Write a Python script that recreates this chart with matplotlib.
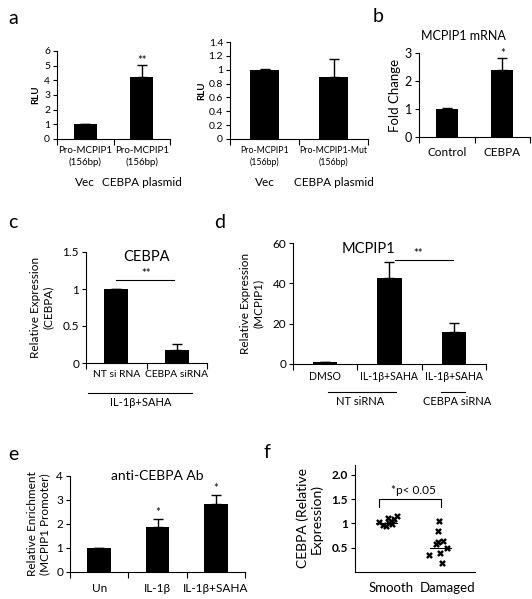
import matplotlib
matplotlib.use("Agg")
import matplotlib.pyplot as plt
import numpy as np

plt.rcParams['font.family'] = ['Lato', 'DejaVu Sans']

# panel a (left): luciferase, wild type promoter
a1_groups = ["Vec", "CEBPA plasmid"]
a1_labels = ["Pro-MCPIP1\n(156bp)", "Pro-MCPIP1\n(156bp)"]
a1_vals = [1.0, 4.25]
a1_err = [0.03, 0.78]

# panel a (right): mutant promoter
a2_groups = ["Vec", "CEBPA plasmid"]
a2_labels = ["Pro-MCPIP1\n(156bp)", "Pro-MCPIP1-Mut\n(156bp)"]
a2_vals = [1.0, 0.9]
a2_err = [0.005, 0.25]

# panel b
b_labels = ["Control", "CEBPA"]
b_vals = [1.0, 2.4]
b_err = [0.02, 0.42]

# panel c
c_labels = ["NT si RNA", "CEBPA siRNA"]
c_vals = [1.0, 0.17]
c_err = [0.005, 0.09]

# panel d
d_labels = ["DMSO", "IL-1β+SAHA", "IL-1β+SAHA"]
d_vals = [0.9, 42.5, 16.0]
d_err = [0.3, 8.0, 4.2]

# panel e
e_labels = ["Un", "IL-1β", "IL-1β+SAHA"]
e_vals = [1.0, 1.87, 2.85]
e_err = [0.01, 0.35, 0.37]

# panel f: scatter of individual samples
f_labels = ["Smooth", "Damaged"]
smooth_vals = [1.02, 0.97, 0.94, 1.0, 1.05, 1.09, 1.15, 1.11, 0.98]
smooth_jit = [-0.22, -0.15, -0.1, -0.04, 0.0, 0.04, 0.1, -0.05, 0.02]
damaged_vals = [1.04, 0.84, 0.61, 0.63, 0.57, 0.49, 0.39, 0.35, 0.18]
damaged_jit = [-0.15, -0.17, -0.17, -0.08, -0.2, 0.0, -0.12, -0.32, -0.1]
smooth_mean = 1.0
damaged_mean = 0.5

W, H = 532, 599
fig = plt.figure(figsize=(W / 100, H / 100), dpi=100)


def px_axes(l, t, r, b):
    return fig.add_axes([l / W, 1 - b / H, (r - l) / W, (b - t) / H])


def bar_panel(ax, vals, err, labels, ymax, yticks, width, tick_fs, lab_fs):
    x = np.arange(len(vals))
    ax.bar(x, vals, width=width, color='black')
    ax.errorbar(x, vals, yerr=[np.zeros(len(err)), err], fmt='none',
                ecolor='black', elinewidth=1, capsize=3.5, capthick=1)
    ax.set_xlim(-0.5, len(vals) - 0.5)
    ax.set_ylim(0, ymax)
    ax.set_yticks(yticks)
    ax.set_xticks(x)
    ax.set_xticklabels(labels, fontsize=lab_fs, linespacing=1.3)
    ax.tick_params(axis='x', length=0, pad=5)
    ax.set_xticks(np.arange(len(vals) + 1) - 0.5, minor=True)
    ax.tick_params(axis='x', which='minor', length=4, direction='out', width=0.8)
    ax.tick_params(axis='y', length=3, width=0.8, labelsize=tick_fs, pad=2)
    for s in ['top', 'right']:
        ax.spines[s].set_visible(False)
    for s in ['left', 'bottom']:
        ax.spines[s].set_linewidth(0.8)
    return x


# ---- a left
ax = px_axes(57, 51, 170, 139)
x = bar_panel(ax, a1_vals, a1_err, a1_labels, 6, range(7), 0.4, 7.5, 7.0)
ax.set_ylabel("RLU", fontsize=7, fontweight='bold', labelpad=3)
ax.text(1, a1_vals[1] + a1_err[1] + 0.1, "**", ha='center', fontsize=8)
for xi, g in zip(x, a1_groups):
    ax.text(xi, -0.5, g, transform=ax.get_xaxis_transform(), ha='center',
            va='center', fontsize=8.5)

# ---- a right
ax = px_axes(230, 42, 368, 139)
x = bar_panel(ax, a2_vals, a2_err, a2_labels, 1.4, np.arange(0, 1.41, 0.2),
              0.43, 7.5, 6.3)
ax.set_yticklabels(["0", "0.2", "0.4", "0.6", "0.8", "1", "1.2", "1.4"])
ax.set_ylabel("RLU", fontsize=7, fontweight='bold', labelpad=2)
for xi, g in zip(x, a2_groups):
    ax.text(xi, -0.45, g, transform=ax.get_xaxis_transform(), ha='center',
            va='center', fontsize=8.5)

# ---- b
ax = px_axes(419, 53, 530, 137)
x = bar_panel(ax, b_vals, b_err, b_labels, 3, range(4), 0.4, 9, 8.5)
ax.tick_params(axis='x', pad=7)
ax.set_ylabel("Fold Change", fontsize=9.5, labelpad=3)
ax.text(0.3, 3.62, "MCPIP1 mRNA", ha='center', va='center', fontsize=9)
ax.text(1, b_vals[1] + b_err[1] + 0.05, "*", ha='center', fontsize=8)

# ---- c
ax = px_axes(86, 252, 207, 363)
x = bar_panel(ax, c_vals, c_err, c_labels, 1.5, [0, 0.5, 1, 1.5], 0.39, 8.5, 7.4)
ax.set_yticklabels(["0", "0.5", "1", "1.5"])
ax.set_ylabel("Relative Expression\n(CEBPA)", fontsize=8.5, labelpad=6)
ax.text(0.5, 1.43, "CEBPA", ha='center', va='center', fontsize=10.5)
ax.plot([0, 0.95], [1.12, 1.12], color='black', lw=0.8)
ax.text(0.5, 1.13, "**", ha='center', va='bottom', fontsize=8)
tr = ax.get_xaxis_transform()
ax.plot([-0.47, 1.25], [-0.27, -0.27], transform=tr, color='black', lw=0.8,
        clip_on=False)
ax.text(0.4, -0.36, "IL-1β+SAHA", transform=tr, ha='center', va='center',
        fontsize=8)

# ---- d
ax = px_axes(293, 243, 486, 364)
x = bar_panel(ax, d_vals, d_err, d_labels, 60, [0, 20, 40, 60], 0.38, 8.5, 7.6)
ax.set_ylabel("Relative Expression\n(MCPIP1)", fontsize=8.5, labelpad=6)
ax.text(0.68, 57, "MCPIP1", ha='center', va='center', fontsize=10.5)
ax.plot([1.08, 1.98], [51.5, 51.5], color='black', lw=0.8)
ax.text(1.45, 52, "**", ha='center', va='bottom', fontsize=8)
tr = ax.get_xaxis_transform()
ax.plot([0.05, 1.1], [-0.235, -0.235], transform=tr, color='black', lw=0.8,
        clip_on=False)
ax.text(0.55, -0.31, "NT siRNA", transform=tr, ha='center', va='center',
        fontsize=8)
ax.plot([1.8, 2.17], [-0.235, -0.235], transform=tr, color='black', lw=0.8,
        clip_on=False)
ax.text(2.05, -0.31, "CEBPA siRNA", transform=tr, ha='center', va='center',
        fontsize=8)

# ---- e
ax = px_axes(70, 476, 245, 572)
x = bar_panel(ax, e_vals, e_err, e_labels, 4, range(5), 0.41, 8.5, 8.5)
ax.tick_params(axis='x', pad=8)
ax.set_ylabel("Relative Enrichment\n(MCPIP1 Promoter)", fontsize=8.5, labelpad=4)
ax.text(1.0, 4.0, "anti-CEBPA Ab", ha='center', va='center', fontsize=10)
for i in [1, 2]:
    ax.text(x[i], e_vals[i] + e_err[i] + 0.12, "*", ha='center', fontsize=8)

# ---- f
ax = px_axes(355, 465, 475, 572)
ax.scatter(np.array(smooth_jit), smooth_vals, marker='X', s=24, color='black',
           linewidths=0)
ax.scatter(1 + np.array(damaged_jit), damaged_vals, marker='X', s=24,
           color='black', linewidths=0)
ax.plot([-0.27, 0.11], [smooth_mean, smooth_mean], color='black', lw=0.8)
ax.plot([-0.27 + 0.96, 1.07], [damaged_mean, damaged_mean], color='black', lw=0.8)
ax.plot([-0.22, -0.22, 0.89, 0.89], [1.33, 1.51, 1.51, 1.33], color='black', lw=0.8)
ax.text(0.4, 1.68, "*p< 0.05", ha='center', va='center', fontsize=8.5)
ax.set_xlim(-0.65, 1.5)
ax.set_ylim(0, 2.2)
ax.set_yticks([0.5, 1, 1.5, 2.0])
ax.set_yticklabels(["0.5", "1", "1.5", "2.0"], fontweight='bold')
ax.tick_params(axis='y', length=3, width=0.8, labelsize=8.5, pad=2)
ax.set_xticks([0, 1])
ax.set_xticklabels(f_labels, fontsize=9.5)
ax.tick_params(axis='x', length=0, pad=7)
ax.set_ylabel("CEBPA (Relative\nExpression)", fontsize=10, labelpad=6)
for s in ['top', 'right']:
    ax.spines[s].set_visible(False)
for s in ['left', 'bottom']:
    ax.spines[s].set_linewidth(0.8)

# panel letters
for letter, (px, py) in {"a": (8, 18), "b": (373, 17), "c": (8, 222),
                         "d": (214, 222), "e": (8, 455), "f": (264, 453)}.items():
    fig.text(px / W, 1 - py / H, letter, fontsize=14, ha='left', va='center')

fig.savefig("out.png", dpi=100)
